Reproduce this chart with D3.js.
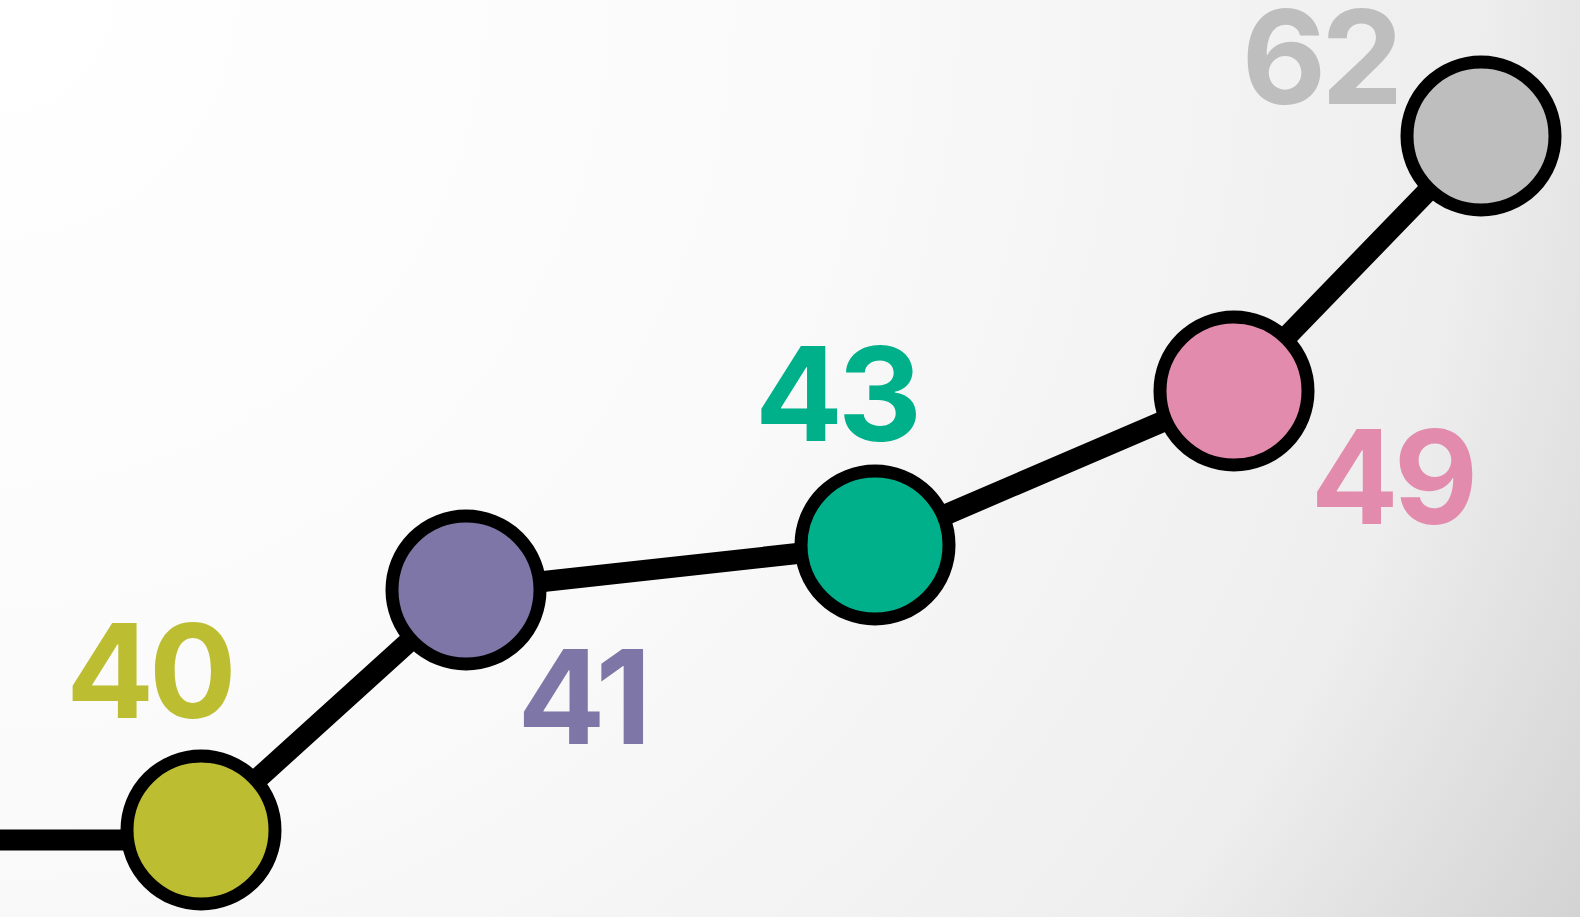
<!DOCTYPE html>
<html lang="en">
<head>
    <meta charset="UTF-8">
    <title>Line with labelled dots</title>
    <script src="https://cdn.jsdelivr.net/npm/d3@7/dist/d3.min.js"></script>
    <style>
        html, body { margin: 0; padding: 0; overflow: hidden; }
    </style>
</head>
<body>
<script>
    // canvas
    const width = 1580;
    const height = 917;

    // data
    const steps = ['a', 'b', 'c', 'd', 'e'];
    const values = [40, 41, 43, 49, 62];
    const colors = ['#bdbd32', '#7e76a6', '#00b08b', '#e38bad', '#bdbebd'];

    // layout: the points sit on hand placed slots, not a linear axis
    let x = d3.scalePoint()
        .domain(steps)
        .range([0, 4]);
    let xPos = d3.scaleLinear()
        .domain([0, 1, 2, 3, 4])
        .range([201, 466, 875, 1234, 1481]);
    let y = d3.scaleLinear()
        .domain(values)
        .range([830, 590, 545, 391, 136]);

    // label offset from each dot centre (dx, baseline dy)
    const labelOffset = [[-52, -112], [116, 154], [-39, -104], [158, 133], [-161, -32]];

    const radius = 74;
    const ring = 13;
    const lineWidth = 21;

    let svg = d3.select('body')
        .append('svg')
        .attr('width', width)
        .attr('height', height);

    // background shading
    let grad = svg.append('defs').append('radialGradient')
        .attr('id', 'bg')
        .attr('gradientUnits', 'userSpaceOnUse')
        .attr('cx', 0).attr('cy', 0)
        .attr('r', 1840);
    grad.append('stop').attr('offset', 0).attr('stop-color', '#ffffff');
    grad.append('stop').attr('offset', 0.45).attr('stop-color', '#fafafa');
    grad.append('stop').attr('offset', 0.8).attr('stop-color', '#eeeeee');
    grad.append('stop').attr('offset', 1).attr('stop-color', '#d2d2d2');

    svg.append('rect')
        .attr('width', width)
        .attr('height', height)
        .attr('fill', 'url(#bg)');

    let px = (d, i) => xPos(x(steps[i]));
    let py = d => y(d);

    // lead-in from the left edge
    svg.append('line')
        .attr('x1', -20)
        .attr('y1', py(values[0]) + 10)
        .attr('x2', px(values[0], 0))
        .attr('y2', py(values[0]) + 10)
        .attr('stroke', '#000')
        .attr('stroke-width', lineWidth);

    let line = d3.line()
        .x(px)
        .y(py);

    svg.append('path')
        .attr('d', line(values))
        .attr('fill', 'none')
        .attr('stroke', '#000')
        .attr('stroke-width', lineWidth)
        .attr('stroke-linejoin', 'round');

    svg.selectAll('circle')
        .data(values)
        .enter()
        .append('circle')
        .attr('cx', px)
        .attr('cy', py)
        .attr('r', radius)
        .attr('fill', (d, i) => colors[i])
        .attr('stroke', '#000')
        .attr('stroke-width', ring);

    svg.selectAll('text.lbl')
        .data(values)
        .enter()
        .append('text')
        .attr('class', 'lbl')
        .attr('x', (d, i) => px(d, i) + labelOffset[i][0])
        .attr('y', (d, i) => py(d) + labelOffset[i][1])
        .attr('text-anchor', 'middle')
        .attr('font-family', 'Inter, "Open Sans", sans-serif')
        .attr('font-weight', 700)
        .attr('font-size', 130)
        .attr('letter-spacing', -5)
        .attr('fill', (d, i) => colors[i])
        .text(d => d);
</script>
</body>
</html>
